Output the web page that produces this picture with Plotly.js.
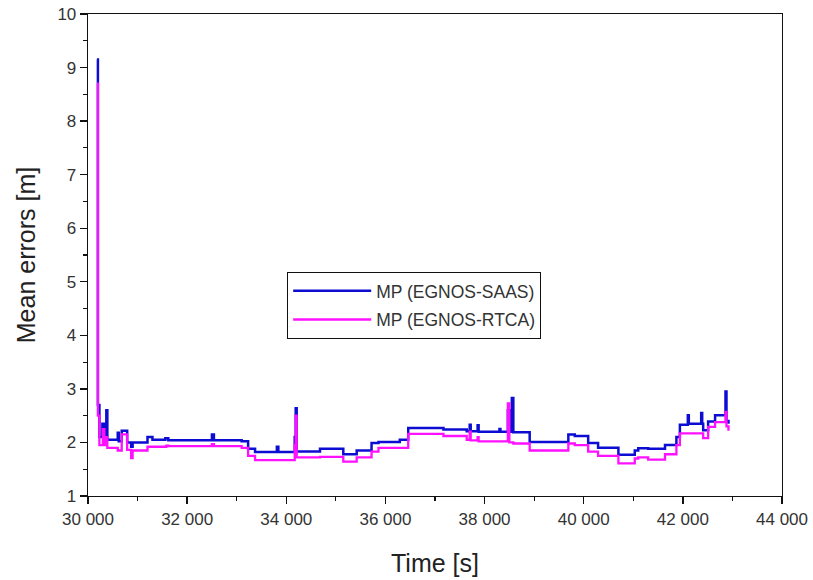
<!DOCTYPE html>
<html>
<head>
<meta charset="utf-8">
<script src="https://cdn.plot.ly/plotly-3.0.1.min.js"></script>
<style>
  html, body { margin: 0; padding: 0; background: #fff; }
  #chart { width: 813px; height: 580px; }
</style>
</head>
<body>
<div id="chart"></div>
<script>
// mean errors, step points (time [s], error [m])
const saasTime = [30180, 30200, 30230, 30290, 30330, 30370, 30390, 30600, 30620, 30680, 30790, 30870, 30900,
  31200, 31300, 31560, 31620, 32500, 32540, 33100, 33230, 33370, 33810, 33840, 34170, 34190, 34210,
  34680, 35150, 35420, 35720, 35860, 36290, 36460, 37170, 37640, 37700, 37720, 37860, 37880, 38300, 38320,
  38470, 38500, 38550, 38580, 38910, 39690, 39820, 40090, 40290, 40700, 41030, 41100, 41300, 41640,
  41870, 41940, 42100, 42120, 42370, 42390, 42410, 42510, 42650, 42860, 42880, 42920];
const saasErr = [9.15, 2.7, 2.1, 2.35, 2.1, 2.6, 2.05, 2.18, 2.02, 2.22, 2.0, 1.92, 2.0,
  2.1, 2.05, 2.08, 2.04, 2.15, 2.04, 2.02, 1.88, 1.82, 1.92, 1.82, 2.1, 2.64, 1.83,
  1.88, 1.78, 1.85, 1.99, 2.01, 2.05, 2.27, 2.24, 2.21, 2.33, 2.21, 2.32, 2.2, 2.25, 2.2,
  2.6, 2.2, 2.83, 2.19, 2.01, 2.15, 2.12, 1.99, 1.9, 1.77, 1.85, 1.89, 1.88, 1.95,
  2.1, 2.33, 2.51, 2.35, 2.55, 2.35, 2.23, 2.39, 2.51, 2.95, 2.4, 2.35];

const rtcaTime = [30180, 30200, 30230, 30300, 30330, 30370, 30390, 30600, 30680, 30790, 30870, 30900,
  31200, 31580, 31620, 32500, 32540, 33100, 33230, 33370, 34170, 34190, 34210,
  34680, 35150, 35420, 35720, 35860, 36460, 37170, 37640, 37700, 37720, 37860, 37880,
  38470, 38500, 38580, 38910, 39690, 39820, 40090, 40290, 40700, 41030, 41100, 41300, 41640,
  41870, 41940, 42410, 42510, 42650, 42860, 42880, 42920];
const rtcaErr = [8.7, 2.5, 1.95, 2.25, 1.95, 2.1, 1.9, 1.85, 2.15, 1.86, 1.71, 1.85,
  1.92, 1.94, 1.93, 1.97, 1.93, 1.9, 1.75, 1.67, 1.95, 2.5, 1.72,
  1.73, 1.64, 1.72, 1.83, 1.9, 2.16, 2.12, 2.05, 2.2, 2.04, 2.1, 2.02,
  2.73, 2.0, 1.98, 1.85, 1.98, 1.95, 1.83, 1.75, 1.61, 1.7, 1.72, 1.68, 1.78,
  1.95, 2.17, 2.08, 2.29, 2.38, 2.57, 2.3, 2.22];

const seriesNames = ["MP (EGNOS-SAAS)", "MP (EGNOS-RTCA)"];

let traces = [
  {
    type: "scatter", mode: "lines",
    x: saasTime, y: saasErr,
    name: seriesNames[0], legendgroup: "a",
    line: { color: "#0c0cd2", width: 2.5, shape: "hv" }
  },
  {
    type: "scatter", mode: "lines",
    x: rtcaTime, y: rtcaErr,
    name: seriesNames[1], legendgroup: "b",
    line: { color: "#ff10ff", width: 2.3, shape: "hv" }
  }
];

let tickFont = { family: "Liberation Sans, Arial, sans-serif", size: 17, color: "#333" };
let titleFont = { family: "Liberation Sans, Arial, sans-serif", size: 25, color: "#222" };

let layout = {
  width: 813, height: 580,
  margin: { l: 88, r: 31, t: 14, b: 84 },
  paper_bgcolor: "#fff", plot_bgcolor: "#fff",
  separators: ". ",
  showlegend: true,
  legend: {
    x: 0.287, y: 0.465, xanchor: "left", yanchor: "top",
    bgcolor: "#fff", bordercolor: "#111", borderwidth: 1,
    font: { family: "Liberation Sans, Arial, sans-serif", size: 17.5, color: "#333" },
    itemwidth: 78, traceorder: "grouped", tracegroupgap: 3
  },
  xaxis: {
    range: [30000, 44000], dtick: 2000, tick0: 30000, tickformat: ",d",
    showgrid: false, zeroline: false,
    showline: true, linecolor: "#111", linewidth: 1.3, mirror: true,
    ticks: "outside", ticklen: 7, tickcolor: "#111", tickwidth: 1.3,
    minor: { dtick: 1000, ticks: "outside", ticklen: 4, tickcolor: "#111", tickwidth: 1.2, showgrid: false },
    tickfont: tickFont,
    title: { text: "Time [s]", font: titleFont, standoff: 26 }
  },
  yaxis: {
    range: [1, 10], dtick: 1, tick0: 1,
    showgrid: false, zeroline: false,
    showline: true, linecolor: "#111", linewidth: 1.3, mirror: true,
    ticks: "outside", ticklen: 7, tickcolor: "#111", tickwidth: 1.3,
    minor: { dtick: 0.5, ticks: "outside", ticklen: 4, tickcolor: "#111", tickwidth: 1.2, showgrid: false },
    tickfont: tickFont,
    title: { text: "Mean errors [m]", font: titleFont, standoff: 14 }
  }
};

Plotly.newPlot("chart", traces, layout, { displayModeBar: false, staticPlot: true });
</script>
</body>
</html>
